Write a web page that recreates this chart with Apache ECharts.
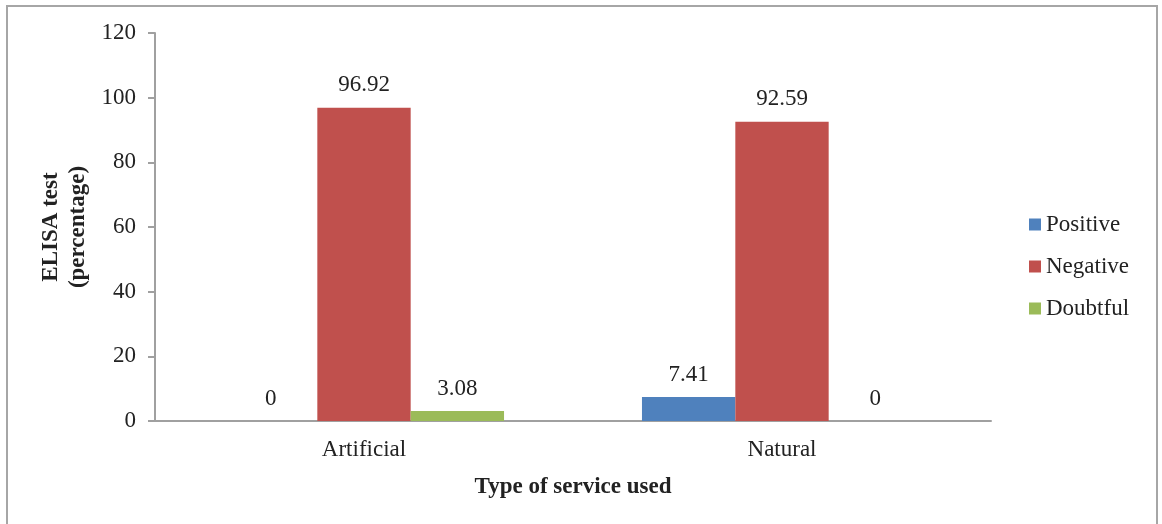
<!DOCTYPE html>
<html>
<head>
<meta charset="utf-8">
<script src="https://cdn.jsdelivr.net/npm/echarts@6/dist/echarts.min.js"></script>
<style>
  html, body { margin: 0; padding: 0; background: #fff; }
  #chart { width: 1162px; height: 524px; }
</style>
</head>
<body>
<div id="chart"></div>
<script>
const categories = ['Artificial', 'Natural']
const positive = [0, 7.41]
const negative = [96.92, 92.59]
const doubtful = [3.08, 0]

const font = '"Liberation Serif", "DejaVu Serif", serif'

const chart = echarts.init(document.getElementById('chart'))

// labels above each bar
const labelStyle = {
  show: true,
  position: 'top',
  distance: 11,
  color: '#222',
  fontFamily: font,
  fontSize: 23
}

const option = {
  animation: false,
  textStyle: { fontFamily: font },
  graphic: [
    {
      type: 'rect',
      shape: { x: 7, y: 6, width: 1150, height: 530 },
      style: { fill: 'none', stroke: '#a6a6a6', lineWidth: 2 },
      silent: true
    }
  ],
  grid: {
    left: 155,
    right: 171,
    top: 33,
    bottom: 103
  },
  legend: {
    orient: 'vertical',
    left: 1029,
    top: 213,
    padding: 0,
    itemWidth: 12,
    itemHeight: 12,
    itemGap: 19,
    icon: 'rect',
    textStyle: { fontFamily: font, fontSize: 23, color: '#222' },
    data: ['Positive', 'Negative', 'Doubtful']
  },
  xAxis: {
    type: 'category',
    data: categories,
    name: 'Type of service used',
    nameLocation: 'middle',
    nameGap: 55,
    nameTextStyle: { fontFamily: font, fontSize: 23, fontWeight: 'bold', color: '#222' },
    axisTick: { show: false },
    axisLine: { lineStyle: { color: '#a0a0a0', width: 2 } },
    axisLabel: { fontFamily: font, fontSize: 23, color: '#222', margin: 17 }
  },
  yAxis: {
    type: 'value',
    min: 0,
    max: 120,
    interval: 20,
    name: 'ELISA test\n(percentage)',
    nameLocation: 'middle',
    nameGap: 63,
    nameMoveOverlap: false,
    nameTextStyle: { fontFamily: font, fontSize: 23, fontWeight: 'bold', color: '#222', lineHeight: 27 },
    splitLine: { show: false },
    axisLine: { show: true, lineStyle: { color: '#a0a0a0', width: 2 } },
    axisTick: { show: true, length: 7, lineStyle: { color: '#a0a0a0', width: 2 } },
    axisLabel: { fontFamily: font, fontSize: 23, color: '#222', margin: 19 }
  },
  series: [
    {
      name: 'Positive',
      type: 'bar',
      data: positive,
      barGap: '0%',
      barCategoryGap: '33%',
      itemStyle: { color: '#4F81BD' },
      label: labelStyle
    },
    {
      name: 'Negative',
      type: 'bar',
      data: negative,
      itemStyle: { color: '#C0504D' },
      label: labelStyle
    },
    {
      name: 'Doubtful',
      type: 'bar',
      data: doubtful,
      itemStyle: { color: '#9BBB59' },
      label: labelStyle
    }
  ]
}

chart.setOption(option)
</script>
</body>
</html>
